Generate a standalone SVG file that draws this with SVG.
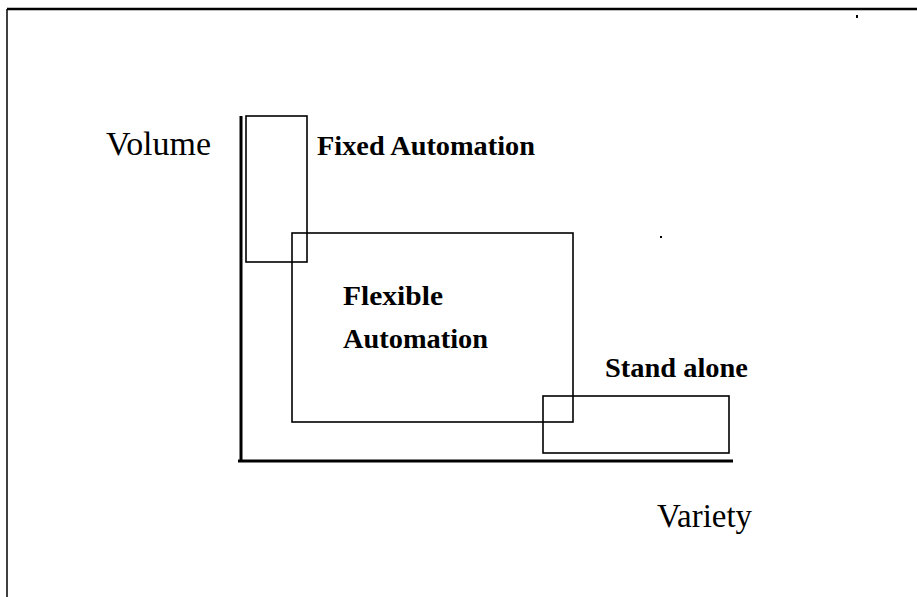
<svg xmlns="http://www.w3.org/2000/svg" width="917" height="597" viewBox="0 0 917 597">
  <style>
    .frame { fill: none; stroke: #000; }
    .axis { fill: none; stroke: #000; stroke-width: 3; }
    .box { fill: none; stroke: #000; stroke-width: 1.6; }
    .axis-label { font-family: "Liberation Serif", "Times New Roman", serif; font-size: 33px; fill: #000; }
    .box-label { font-family: "Liberation Serif", "Times New Roman", serif; font-size: 28px; font-weight: bold; fill: #000; }
  </style>
  <rect width="917" height="597" fill="#fff"/>

  <!-- outer frame (top and left edges) -->
  <g id="frame">
    <line class="frame" x1="7" y1="9" x2="917" y2="9" stroke-width="2.5"/>
    <line class="frame" x1="7" y1="9" x2="7" y2="597" stroke-width="1.5"/>
  </g>

  <!-- axes -->
  <g id="axes">
    <line class="axis" x1="241" y1="116" x2="241" y2="462"/>
    <line class="axis" x1="238" y1="461" x2="733" y2="461"/>
    <text id="volume" class="axis-label" x="106" y="155" textLength="105" lengthAdjust="spacingAndGlyphs">Volume</text>
    <text id="variety" class="axis-label" x="657" y="527" textLength="95" lengthAdjust="spacingAndGlyphs">Variety</text>
  </g>

  <g id="fixed-automation">
    <rect class="box" x="246" y="116" width="61" height="146"/>
    <text class="box-label" x="317" y="155" textLength="218" lengthAdjust="spacingAndGlyphs">Fixed Automation</text>
  </g>

  <g id="flexible-automation">
    <rect class="box" x="292" y="233" width="281" height="189"/>
    <text class="box-label" x="343" y="305" textLength="100" lengthAdjust="spacingAndGlyphs">Flexible</text>
    <text class="box-label" x="343" y="348" textLength="145" lengthAdjust="spacingAndGlyphs">Automation</text>
  </g>

  <g id="stand-alone">
    <rect class="box" x="543" y="396" width="186" height="57"/>
    <text class="box-label" x="605" y="377" textLength="143" lengthAdjust="spacingAndGlyphs">Stand alone</text>
  </g>

  <!-- connectors: none in this chart -->
  <g id="connectors"/>

  <!-- small specks -->
  <g id="specks" fill="#000">
    <rect x="856" y="15" width="2" height="3"/>
    <rect x="660" y="236" width="2" height="2"/>
  </g>
</svg>
